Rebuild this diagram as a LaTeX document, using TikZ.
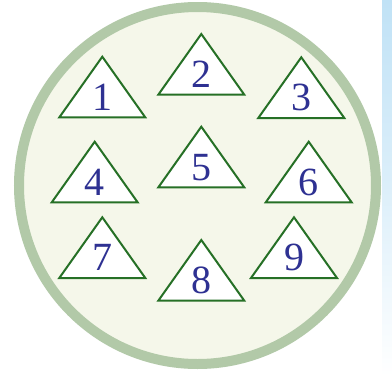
\documentclass[tikz,border=0pt]{standalone}
\usepackage{fontspec}
\setmainfont{Liberation Serif}
\usetikzlibrary{calc}
\definecolor{ringgreen}{RGB}{178,201,168}
\definecolor{discfill}{RGB}{245,247,234}
\definecolor{trigreen}{RGB}{38,112,38}
\definecolor{numblue}{RGB}{46,49,146}
\definecolor{stripblue}{RGB}{192,226,246}
\begin{document}
\begin{tikzpicture}[x=1pt,y=-1pt,
  tri/.style={draw=trigreen,fill=white,line width=2pt,line join=miter},
  num/.style={text=numblue,font=\fontsize{40}{40}\selectfont,inner sep=0pt,anchor=center}]
\useasboundingbox (0,0) rectangle (392,376);
\fill[white] (0,0) rectangle (392,376);
\shade[top color=stripblue,bottom color=white,middle color=stripblue!55] (382,0) rectangle (392,376);
\node[circle,draw=ringgreen,fill=discfill,line width=10pt,minimum size=357pt,inner sep=0pt] (disc) at (197.5,185.5) {};
\foreach \n/\ax/\ay in {1/102.3/56.7, 2/201.3/34, 3/301.3/57.3, 4/94.7/141.7, 5/201.3/126.7, 6/308.7/141.7, 7/102.3/217.3, 8/201.3/240, 9/294/217.3}{
  \coordinate (apex\n) at (\ax,\ay);
  \draw[tri] (apex\n) -- ++(43,60.7) -- ++(-86,0) -- cycle;
  \node[num] (n\n) at ($(apex\n)+(0,40.5)$) {\n};
}
\end{tikzpicture}
\end{document}
